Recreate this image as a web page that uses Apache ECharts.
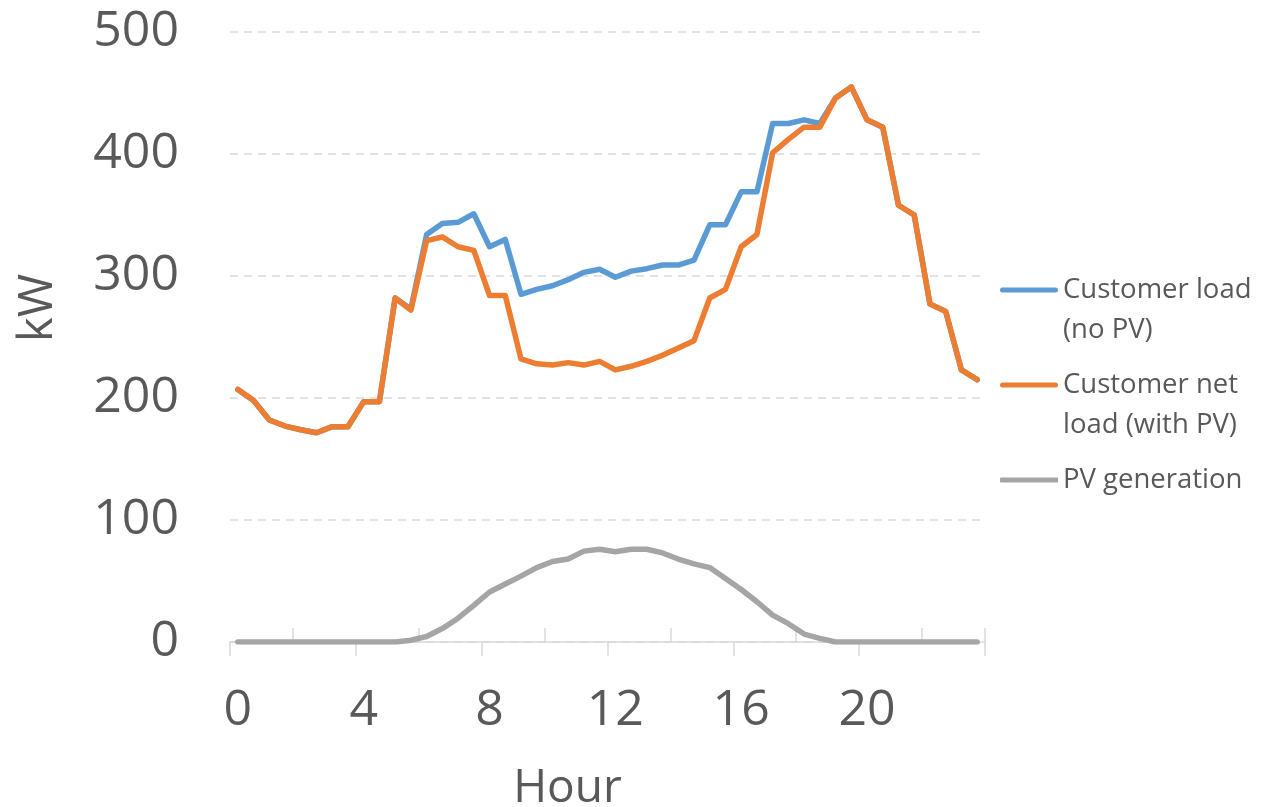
<!DOCTYPE html>
<html>
<head>
<meta charset="utf-8">
<script src="https://cdn.jsdelivr.net/npm/echarts@6/dist/echarts.min.js"></script>
<style>
html,body{margin:0;padding:0;background:#fff;overflow:hidden;}
#chart{width:1261px;height:807px;}
</style>
</head>
<body>
<div id="chart"></div>
<script>
const hours = ['0','0.5','1','1.5','2','2.5','3','3.5','4','4.5','5','5.5','6','6.5','7','7.5',
  '8','8.5','9','9.5','10','10.5','11','11.5','12','12.5','13','13.5','14','14.5','15','15.5',
  '16','16.5','17','17.5','18','18.5','19','19.5','20','20.5','21','21.5','22','22.5','23','23.5'];

const customerLoad = [207,198,182,177,174,171.5,176.5,176.5,197,197,282,273,
  334,343,344,351,324,330,285,289,292,297,303,305.5,
  299,304,306,309,309,313,342,342,369,369,425,425,
  428,425,446,455,428,422,358,350,277,271,223,215];

const netLoad = [207,198,182,177,174,171.5,176.5,176.5,197,197,282,272,
  329,332,324,321,284,284,232,228,227,229,227,230,
  223,226,230,235,241,247,282,289,324,334,401,412,
  422,422,446,455,428,422,358,350,277,271,223,215];

const pvGeneration = [0,0,0,0,0,0,0,0,0,0,0,1.5,
  4.5,11,19.5,30,41,47.5,54,61,66,68,74.5,76,
  74,76,76,73,68,64,61,52,43,33,22,15,
  6.5,3,0,0,0,0,0,0,0,0,0,0];

const yTicks = {min: 0, max: 500, interval: 100};
const seriesNames = ['Customer load\n(no PV)', 'Customer net\nload (with PV)', 'PV generation'];
const colors = ['#5B9BD5', '#ED7D31', '#A5A5A5'];

const FONT = '"Open Sans", sans-serif';
const TXT = '#595959';
const GRIDC = '#D9D9D9';

const chart = echarts.init(document.getElementById('chart'), null, {renderer: 'canvas', width: 1261, height: 807});

const topBarIcon = 'path://M2.5,0L55.5,0A2.5,2.5,0,0,1,55.5,5L2.5,5A2.5,2.5,0,0,1,2.5,0Z M0,44.95L0.05,44.95L0.05,45L0,45Z';

function legendFor(i, top, twoLine) {
  return {
    show: true,
    orient: 'vertical',
    left: 1000,
    top: top,
    padding: 0,
    itemWidth: 58,
    itemHeight: twoLine ? 45 : 5,
    itemGap: 0,
    icon: twoLine ? topBarIcon : 'roundRect',
    selectedMode: false,
    data: [seriesNames[i]],
    textStyle: {fontFamily: FONT, fontSize: 27.5, color: TXT, lineHeight: 40}
  };
}

const option = {
  backgroundColor: '#ffffff',
  animation: false,
  color: colors,
  grid: {left: 230, width: 755, top: 32, height: 610, containLabel: false, outerBoundsMode: 'none'},
  legend: [legendFor(0, 270, true), legendFor(1, 365, true), legendFor(2, 460, false)],
  xAxis: [{
    type: 'category',
    position: 'bottom',
    data: hours,
    boundaryGap: true,
    name: 'Hour',
    nameLocation: 'middle',
    nameGap: 124,
    nameTextStyle: {fontFamily: FONT, fontSize: 46, color: TXT, padding: [0, 80, 0, 0]},
    axisLine: {show: true, lineStyle: {color: GRIDC, width: 1.5}},
    axisTick: {show: true, inside: false, length: 14, interval: function (idx) { return idx % 8 === 0; },
      lineStyle: {color: GRIDC, width: 1.5}},
    axisLabel: {show: true, interval: 7, margin: 44, fontFamily: FONT, fontSize: 50, color: TXT},
    splitLine: {show: false}
  }, {
    type: 'category',
    position: 'bottom',
    data: hours,
    boundaryGap: true,
    axisLine: {show: false},
    axisTick: {show: true, inside: true, length: 14, interval: function (idx) { return idx % 8 === 4; },
      lineStyle: {color: GRIDC, width: 1.5}},
    axisLabel: {show: false},
    splitLine: {show: false}
  }],
  yAxis: {
    type: 'value',
    min: yTicks.min,
    max: yTicks.max,
    interval: yTicks.interval,
    name: 'kW',
    nameLocation: 'middle',
    nameRotate: 90,
    nameGap: 168,
    nameTextStyle: {fontFamily: FONT, fontSize: 47, color: TXT, padding: [0, 0, 0, 58]},
    axisLine: {show: false},
    axisTick: {show: false},
    axisLabel: {margin: 51, fontFamily: FONT, fontSize: 50, color: TXT},
    splitLine: {show: true, lineStyle: {color: GRIDC, width: 1.5, type: [8, 6]}}
  },
  series: [{
    name: seriesNames[0], type: 'line', data: customerLoad, xAxisIndex: 0,
    symbol: 'none', smooth: false, z: 2,
    lineStyle: {width: 5.5, color: colors[0], join: 'round', cap: 'round'},
    itemStyle: {color: colors[0]}
  }, {
    name: seriesNames[1], type: 'line', data: netLoad, xAxisIndex: 0,
    symbol: 'none', smooth: false, z: 3,
    lineStyle: {width: 5.5, color: colors[1], join: 'round', cap: 'round'},
    itemStyle: {color: colors[1]}
  }, {
    name: seriesNames[2], type: 'line', data: pvGeneration, xAxisIndex: 0,
    symbol: 'none', smooth: false, z: 4,
    lineStyle: {width: 5.5, color: colors[2], join: 'round', cap: 'round'},
    itemStyle: {color: colors[2]}
  }]
};
chart.setOption(option);
</script>
</body>
</html>
